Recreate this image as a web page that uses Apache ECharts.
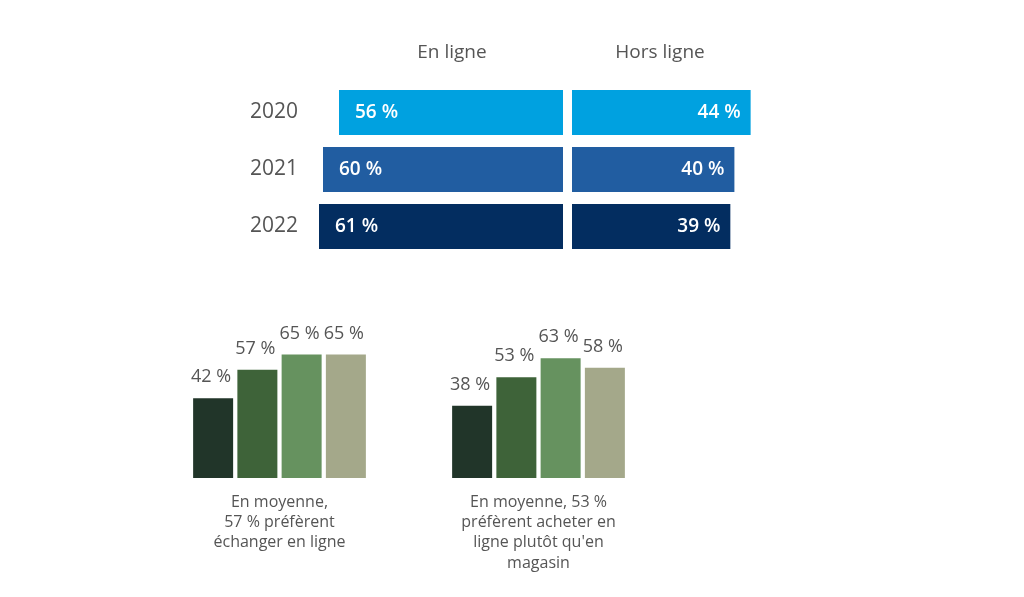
<!DOCTYPE html>
<html><head><meta charset="utf-8">
<script src="https://cdn.jsdelivr.net/npm/echarts@6/dist/echarts.min.js"></script>
<style>html,body{margin:0;padding:0;background:#fff}#c{width:1024px;height:597px}</style>
</head><body><div id="c"></div>
<script>
const years = ['2020', '2021', '2022'];
const enLigne = [56, 60, 61];
const horsLigne = [44, 40, 39];
const headers = ['En ligne', 'Hors ligne'];
const groupes = ['Groupe 1', 'Groupe 2', 'Groupe 3', 'Groupe 4'];
const echanger = [42, 57, 65, 65];
const acheter = [38, 53, 63, 58];
const captionEchanger = 'En moyenne,\n57 % préfèrent\néchanger en ligne';
const captionAcheter = 'En moyenne, 53 %\npréfèrent acheter en\nligne plutôt qu\'en\nmagasin';

const FONT = 'Open Sans';
const yearColors = ['#00A1E0', '#215DA1', '#032D60'];
const greenColors = ['#213529', '#3E6339', '#66925F', '#A4A88A'];
const pct = p => p.value + ' %';

const chart = echarts.init(document.getElementById('c'), null, {renderer: 'canvas'});
const bottomX = (grid, caption) => ({
  type: 'category', gridIndex: grid, data: groupes,
  axisLine: {show: false}, axisTick: {show: false}, axisLabel: {show: false},
  name: caption, nameLocation: 'middle', nameGap: 14,
  nameTextStyle: {fontFamily: FONT, fontSize: 16, color: '#555', lineHeight: 20.3}
});
const bottomSeries = (idx, data) => ({
  type: 'bar', xAxisIndex: idx, yAxisIndex: idx, data: data, barWidth: 40,
  itemStyle: {color: p => greenColors[p.dataIndex]},
  label: {show: true, position: 'top', distance: 12, formatter: pct,
    fontFamily: FONT, fontSize: 18, color: '#555', offset: [-2, 0]}
});
chart.setOption({
  animation: false,
  textStyle: {fontFamily: FONT},
  grid: [
    {left: 303, width: 260, top: 84, height: 171},
    {left: 572, width: 203, top: 84, height: 171},
    {left: 191, width: 177, top: 288, height: 190},
    {left: 450, width: 177, top: 288, height: 190}
  ],
  xAxis: [
    {type: 'value', gridIndex: 0, min: 0, max: 65, inverse: true, show: false},
    {type: 'value', gridIndex: 1, min: 0, max: 50, show: false},
    bottomX(2, captionEchanger),
    bottomX(3, captionAcheter)
  ],
  yAxis: [
    {type: 'category', gridIndex: 0, data: years, inverse: true,
      axisLine: {show: false}, axisTick: {show: false},
      axisLabel: {margin: 5, fontFamily: FONT, fontSize: 21, color: '#555', padding: [0, 0, 4, 0]}},
    {type: 'category', gridIndex: 1, data: years, inverse: true, show: false},
    {type: 'value', gridIndex: 2, min: 0, max: 100, show: false},
    {type: 'value', gridIndex: 3, min: 0, max: 100, show: false}
  ],
  graphic: [
    {type: 'text', x: 452, y: 53, style: {text: headers[0], fontFamily: FONT, fontSize: 19, fill: '#555', textAlign: 'center', textVerticalAlign: 'middle'}},
    {type: 'text', x: 660, y: 53, style: {text: headers[1], fontFamily: FONT, fontSize: 19, fill: '#555', textAlign: 'center', textVerticalAlign: 'middle'}}
  ],
  series: [
    {type: 'bar', xAxisIndex: 0, yAxisIndex: 0, data: enLigne, barWidth: 45,
      itemStyle: {color: p => yearColors[p.dataIndex]},
      label: {show: true, position: 'insideLeft', distance: 16, formatter: pct,
        fontFamily: FONT, fontSize: 19, fontWeight: 600, color: '#fff'}},
    {type: 'bar', xAxisIndex: 1, yAxisIndex: 1, data: horsLigne, barWidth: 45,
      itemStyle: {color: p => yearColors[p.dataIndex]},
      label: {show: true, position: 'insideRight', distance: 10, formatter: pct,
        fontFamily: FONT, fontSize: 19, fontWeight: 600, color: '#fff'}},
    bottomSeries(2, echanger),
    bottomSeries(3, acheter)
  ]
});
</script></body></html>
